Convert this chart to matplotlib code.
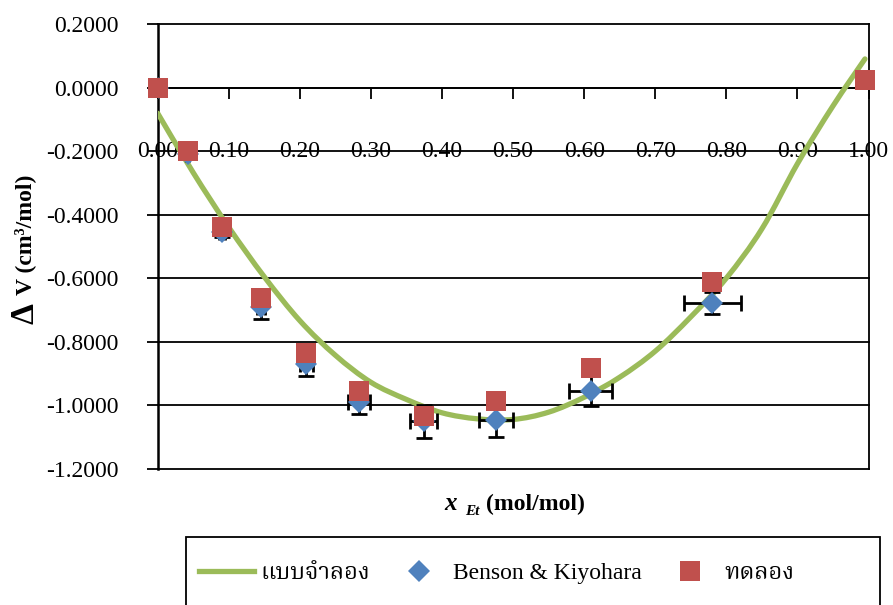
import matplotlib
matplotlib.use("Agg")
import matplotlib.pyplot as plt
from matplotlib import font_manager
from matplotlib.ft2font import FT2Font
from matplotlib.lines import Line2D
from matplotlib.patches import Rectangle, PathPatch
from matplotlib.path import Path

# mole fraction of ethanol vs excess volume
x_model = [0.00, 0.05, 0.10, 0.15, 0.20, 0.25, 0.30, 0.35, 0.40, 0.45, 0.50,
           0.55, 0.60, 0.65, 0.70, 0.75, 0.80, 0.85, 0.90, 0.95, 0.995]
dv_model = [-0.081, -0.268, -0.440, -0.596, -0.734, -0.843, -0.928, -0.982,
            -1.024, -1.043, -1.045, -1.022, -0.975, -0.912, -0.830, -0.722,
            -0.600, -0.445, -0.240, -0.058, 0.090]

x_lit = [0.000, 0.042, 0.090, 0.145, 0.209, 0.283, 0.374, 0.476, 0.609, 0.780]
dv_lit = [0.000, -0.209, -0.455, -0.691, -0.870, -0.990, -1.050, -1.047, -0.954, -0.679]
dv_lit_err = [0.0, 0.010, 0.015, 0.038, 0.038, 0.038, 0.052, 0.052, 0.048, 0.034]
x_lit_err = [0.0, 0.002, 0.004, 0.006, 0.009, 0.015, 0.019, 0.024, 0.030, 0.040]

x_exp = [0.000, 0.042, 0.090, 0.145, 0.209, 0.283, 0.374, 0.476, 0.609, 0.780, 0.995]
dv_exp = [0.000, -0.199, -0.438, -0.663, -0.837, -0.955, -1.033, -0.987, -0.884, -0.613, 0.024]

x_ticks = [0.0, 0.1, 0.2, 0.3, 0.4, 0.5, 0.6, 0.7, 0.8, 0.9, 1.0]
y_ticks = [0.2, 0.0, -0.2, -0.4, -0.6, -0.8, -1.0, -1.2]

label_model = "แบบจำลอง"
label_lit = "Benson & Kiyohara"
label_exp = "ทดลอง"

GREEN = "#9BBB59"
BLUE = "#4F81BD"
RED = "#C0504D"
SERIF = "Liberation Serif"


def find_thai_font():
    found = []
    for fe in font_manager.fontManager.ttflist:
        try:
            cmap = FT2Font(fe.fname).get_charmap()
        except Exception:
            continue
        if ord("แ") in cmap and ord("ำ") in cmap:
            found.append(fe.name)
    for name in ["Norasi", "Noto Serif Thai", "Laksaman", "Loma", "Garuda",
                 "Noto Sans Thai", "Noto Sans Thai Looped"]:
        if name in found:
            return name
    return found[0] if found else "DejaVu Sans"


def smooth_path(xs, ys):
    # smoothed line through the points (Catmull-Rom as cubic Bezier pieces)
    pts = list(zip(xs, ys))
    verts = [pts[0]]
    codes = [Path.MOVETO]
    n = len(pts)
    for i in range(n - 1):
        p0 = pts[max(i - 1, 0)]
        p1 = pts[i]
        p2 = pts[i + 1]
        p3 = pts[min(i + 2, n - 1)]
        c1 = (p1[0] + (p2[0] - p0[0]) / 6, p1[1] + (p2[1] - p0[1]) / 6)
        c2 = (p2[0] - (p3[0] - p1[0]) / 6, p2[1] - (p3[1] - p1[1]) / 6)
        verts += [c1, c2, p2]
        codes += [Path.CURVE4] * 3
    return Path(verts, codes)


thai_font = find_thai_font()
plt.rcParams["font.family"] = [SERIF, thai_font, "DejaVu Sans"]
plt.rcParams["font.size"] = 17

W, H = 893, 605
fig = plt.figure(figsize=(W / 100, H / 100), dpi=100)
ax = fig.add_axes([157.7 / W, 1 - 468.7 / H, (868.5 - 157.7) / W, (468.7 - 24) / H])

ax.set_xlim(0, 1.0)
ax.set_ylim(-1.2, 0.2)

# horizontal gridlines, which also make the outer top/bottom frame
ax.set_yticks(y_ticks)
ax.set_yticklabels([f"{v:.4f}" for v in y_ticks])
ax.yaxis.grid(True, color="black", linewidth=1.3)
for gl in ax.yaxis.get_gridlines():
    gl.set_clip_on(False)
ax.tick_params(axis="y", direction="out", length=8, width=1.3, pad=20,
               labelsize=17)

# x axis runs along zero, labels sit on the -0.2 line
ax.spines["bottom"].set_position(("data", 0))
ax.spines["bottom"].set_linewidth(1.3)
ax.spines["top"].set_visible(False)
ax.spines["left"].set_linewidth(1.8)
ax.spines["right"].set_linewidth(1.3)
ax.set_xticks(x_ticks)
ax.tick_params(axis="x", direction="out", length=8, width=1.3,
               labelbottom=False)
for xv in x_ticks:
    ax.text(xv, -0.2, f"{xv:.2f}", ha="center", va="center",
            fontsize=17, zorder=1.5)

ax.add_patch(PathPatch(smooth_path(x_model, dv_model), fill=False,
                       edgecolor=GREEN, linewidth=3.8, capstyle="round",
                       joinstyle="round", zorder=3))
ax.errorbar(x_lit, dv_lit, xerr=x_lit_err, yerr=dv_lit_err, fmt="none",
            ecolor="black", elinewidth=2, capsize=6, capthick=2, zorder=4)
ax.plot(x_lit, dv_lit, "D", color=BLUE, markersize=11, markeredgewidth=0,
        zorder=4.5)
ax.plot(x_exp, dv_exp, "s", color=RED, markersize=14.5, markeredgewidth=0,
        zorder=5, clip_on=False)

# axis titles
fig.text(25 / W, 1 - 235 / H, "V (cm³/mol)", rotation=90, ha="center",
         va="center", fontsize=17, fontweight="bold", family=SERIF)
fig.text(25 / W, 1 - 313 / H, "Δ", rotation=90, ha="center", va="center",
         fontsize=24, fontweight="bold", family=SERIF)
fig.text(444 / W, 1 - 510 / H, "x", ha="left", va="baseline", fontsize=18,
         fontweight="bold", fontstyle="italic", family=SERIF)
fig.text(465 / W, 1 - 515 / H, "Et", ha="left", va="baseline", fontsize=11,
         fontweight="bold", fontstyle="italic", family=SERIF)
fig.text(486 / W, 1 - 510 / H, "(mol/mol)", ha="left", va="baseline",
         fontsize=17, fontweight="bold", family=SERIF)

# legend box runs off the bottom edge
fig.patches.append(Rectangle((186 / W, -0.05), (880 - 186) / W,
                             1 - 537 / H + 0.05, transform=fig.transFigure,
                             facecolor="white", edgecolor="black",
                             linewidth=1.3))
handles = [
    Line2D([], [], color=GREEN, linewidth=3.8),
    Line2D([], [], marker="D", color=BLUE, linestyle="", markersize=11,
           markeredgewidth=0),
    Line2D([], [], marker="s", color=RED, linestyle="", markersize=14.5,
           markeredgewidth=0),
]
fig.legend(handles, [label_model, label_lit, label_exp], ncol=3,
           loc="center", bbox_to_anchor=(497 / W, 1 - 573 / H),
           frameon=False, fontsize=17, handlelength=2.3, handletextpad=0.3,
           columnspacing=0.9)

fig.savefig("out.png", dpi=100)
